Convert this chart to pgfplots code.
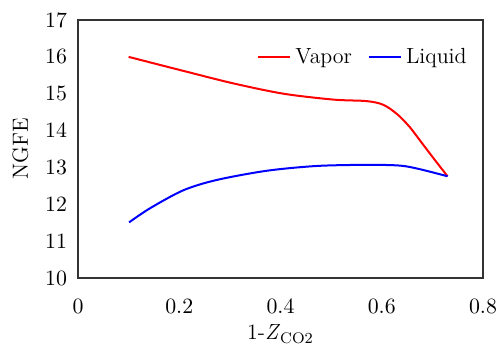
\documentclass[border=0pt]{standalone}
\usepackage{pgfplots}
\pgfplotsset{compat=1.18}
\begin{document}
\begin{tikzpicture}
\useasboundingbox (-39bp,-34bp) rectangle (211bp,139bp);
\begin{axis}[
  scale only axis,
  width=202.5bp, height=129bp,
  xmin=0, xmax=0.8, ymin=10, ymax=17,
  xtick={0,0.2,0.4,0.6,0.8},
  ytick={10,11,...,17},
  major tick length=0pt,
  axis line style={draw=black!80, line width=0.75bp},
  tick label style={font=\fontsize{11}{13}\selectfont},
  xticklabel style={yshift=-7bp},
  yticklabel style={xshift=-2bp},
  label style={font=\fontsize{11}{13}\selectfont},
  xlabel={1-\textit{Z}\textsubscript{CO2}},
  ylabel={NGFE},
  xlabel style={yshift=1bp},
  ylabel style={yshift=1.5bp},
  legend columns=2,
  legend style={draw=none, fill=none, at={(0.985,0.855)}, anchor=east,
    font=\fontsize{11}{13}\selectfont,
    /tikz/every even column/.append style={column sep=6bp}},
  legend image code/.code={\draw[#1] (0bp,0bp) -- (16bp,0bp);},
]
\addplot[red, line width=1bp, smooth] coordinates {
(0.100,16.00) (0.208,15.62) (0.307,15.28) (0.406,15.00) (0.505,14.84)
(0.570,14.80) (0.603,14.70) (0.630,14.45) (0.655,14.10) (0.680,13.65) (0.705,13.20) (0.730,12.76)
};
\addlegendentry{Vapor}
\addplot[blue, line width=1bp, smooth] coordinates {
(0.101,11.51) (0.142,11.89) (0.208,12.38) (0.274,12.66) (0.373,12.91)
(0.472,13.04) (0.570,13.07) (0.636,13.05) (0.676,12.95) (0.730,12.76)
};
\addlegendentry{Liquid}
\end{axis}
\end{tikzpicture}
\end{document}
